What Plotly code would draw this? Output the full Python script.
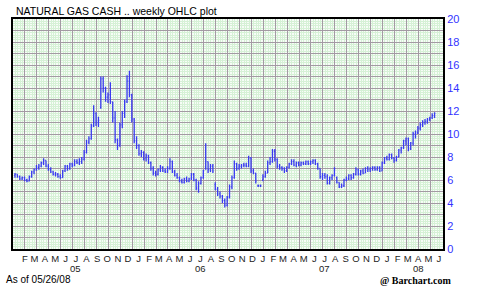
import plotly.graph_objects as go
import pandas as pd

title_text = "NATURAL GAS CASH .. weekly OHLC plot"
as_of_text = "As of 05/26/08"
credit_text = "@ Barchart.com"

first_week = "2005-01-03"
n_weeks = 177
week_dates = pd.date_range(first_week, periods=n_weeks, freq="7D")

opens = [6.4, 6.5, 6.3, 6.1, 6.2, 6.0, 5.9, 6.3, 6.7, 6.9, 7.1, 7.2, 7.5, 7.7, 7.2, 6.9, 6.7, 6.5, 6.5, 6.3,
         6.2, 6.8, 7.2, 7.0, 7.4, 7.3, 7.6, 7.5, 7.6, 7.8, 8.4, 9.3, 9.6, 10.7, 11.8, 11.0, 12.3, 14.8, 14.0, 13.2,
         13.4, 12.8, 11.4, 9.5, 9.0, 10.8, 11.8, 12.8, 14.6, 13.4, 11.3, 9.4, 9.0, 8.3, 8.4, 7.9, 8.1, 7.5, 7.0, 6.6,
         6.5, 6.9, 7.1, 6.8, 6.7, 7.0, 7.6, 6.7, 6.4, 6.2, 5.9, 5.8, 6.1, 5.9, 6.1, 6.5, 6.0, 5.3, 5.7, 6.2,
         7.0, 7.6, 6.9, 7.2, 5.6, 5.2, 4.8, 4.6, 4.2, 3.8, 4.5, 5.4, 6.2, 7.4, 7.0, 7.2, 7.3, 7.3, 7.2, 7.9,
         6.8, 6.6, 5.5, 5.5, 6.0, 6.3, 6.6, 7.5, 7.6, 8.5, 7.8, 7.2, 7.1, 7.0, 6.8, 7.1, 7.4, 7.6, 7.3, 7.5,
         7.3, 7.5, 7.4, 7.6, 7.4, 7.6, 7.7, 7.4, 7.0, 6.3, 6.4, 6.3, 5.7, 6.2, 6.4, 6.2, 5.8, 5.4, 5.5, 6.0,
         6.1, 6.4, 6.2, 6.5, 6.9, 6.5, 6.8, 6.6, 7.0, 6.9, 7.0, 7.1, 6.9, 7.1, 6.8, 7.5, 7.9, 7.8, 8.2, 7.9,
         7.7, 8.0, 8.6, 8.8, 9.4, 9.6, 8.7, 9.2, 10.0, 10.1, 10.5, 10.8, 11.0, 11.1, 11.3, 11.4, 11.6]
highs = [6.6, 6.5, 6.4, 6.3, 6.3, 6.1, 6.4, 6.8, 7.0, 7.3, 7.4, 7.6, 7.9, 7.7, 7.4, 7.1, 6.8, 6.7, 6.6, 6.5,
         6.9, 7.3, 7.3, 7.5, 7.5, 7.8, 7.8, 7.9, 8.0, 8.6, 9.5, 9.8, 10.9, 12.5, 11.9, 11.5, 15.0, 15.0, 14.1, 13.6,
         14.5, 12.8, 12.0, 9.6, 11.0, 12.0, 13.0, 15.1, 15.5, 13.5, 11.4, 9.8, 9.1, 8.6, 8.5, 8.3, 8.2, 7.6, 7.2, 6.8,
         7.0, 7.3, 7.2, 7.0, 7.2, 7.9, 7.7, 6.9, 6.6, 6.3, 6.1, 6.2, 6.3, 6.2, 6.6, 6.6, 6.1, 5.9, 6.3, 6.9,
         9.2, 7.6, 7.4, 7.4, 5.8, 5.4, 5.0, 4.7, 4.4, 4.6, 5.6, 6.4, 7.7, 7.5, 7.4, 7.4, 7.5, 7.5, 8.1, 8.0,
         7.0, 6.6, 5.6, 5.6, 6.5, 6.8, 7.7, 8.0, 8.7, 8.7, 7.9, 7.4, 7.2, 7.1, 7.2, 7.5, 7.8, 7.8, 7.6, 7.6,
         7.6, 7.6, 7.7, 7.7, 7.7, 7.8, 7.8, 7.5, 7.0, 6.6, 6.6, 6.5, 6.3, 6.5, 7.1, 6.3, 5.8, 5.7, 6.1, 6.3,
         6.5, 6.5, 6.6, 7.1, 7.0, 6.9, 7.0, 7.1, 7.2, 7.1, 7.2, 7.2, 7.2, 7.2, 7.6, 8.0, 8.1, 8.3, 8.3, 8.0,
         8.1, 8.7, 8.9, 9.5, 9.7, 9.7, 9.3, 10.2, 10.3, 10.7, 11.0, 11.2, 11.3, 11.4, 11.5, 11.8, 11.9]
lows = [6.2, 6.2, 6.0, 6.0, 5.9, 5.8, 5.9, 6.2, 6.5, 6.8, 6.9, 7.1, 7.3, 7.1, 6.8, 6.6, 6.4, 6.3, 6.2, 6.1,
        6.2, 6.7, 6.8, 6.9, 7.1, 7.2, 7.4, 7.3, 7.4, 7.7, 8.3, 9.1, 9.5, 10.6, 10.7, 10.6, 12.2, 13.6, 12.8, 12.7,
        12.6, 11.0, 9.2, 8.6, 8.9, 10.5, 11.4, 12.7, 13.2, 11.0, 9.2, 8.7, 8.1, 8.0, 7.7, 7.6, 7.4, 6.8, 6.4, 6.3,
        6.4, 6.7, 6.7, 6.6, 6.6, 6.9, 6.6, 6.3, 6.1, 5.8, 5.7, 5.7, 5.8, 5.8, 6.0, 5.9, 5.1, 4.9, 5.6, 6.1,
        6.9, 6.6, 6.7, 6.6, 5.1, 4.6, 4.4, 4.0, 3.6, 3.7, 4.4, 5.2, 6.1, 6.8, 6.9, 7.0, 7.1, 7.1, 7.1, 6.6,
        6.5, 5.7, 5.4, 5.4, 5.9, 6.2, 6.6, 7.3, 7.5, 7.6, 7.0, 6.9, 6.8, 6.6, 6.7, 7.0, 7.3, 7.2, 7.1, 7.2,
        7.2, 7.3, 7.3, 7.3, 7.3, 7.4, 7.3, 6.9, 6.1, 6.0, 6.1, 5.6, 5.6, 6.0, 6.3, 5.7, 5.3, 5.3, 5.4, 5.9,
        6.0, 6.0, 6.1, 6.4, 6.4, 6.4, 6.5, 6.6, 6.7, 6.7, 6.8, 6.8, 6.8, 6.7, 6.8, 7.4, 7.7, 7.7, 7.8, 7.5,
        7.6, 8.0, 8.3, 8.7, 9.0, 8.5, 8.6, 9.0, 9.6, 10.0, 10.3, 10.6, 10.8, 10.9, 11.1, 11.3, 11.4]
closes = [6.5, 6.3, 6.1, 6.2, 6.0, 5.9, 6.3, 6.7, 6.9, 7.1, 7.2, 7.5, 7.7, 7.2, 6.9, 6.7, 6.5, 6.5, 6.3, 6.2,
          6.8, 7.2, 7.0, 7.4, 7.3, 7.6, 7.5, 7.6, 7.8, 8.4, 9.3, 9.6, 10.7, 11.8, 11.0, 11.2, 14.8, 14.0, 13.2, 13.4,
          12.8, 11.4, 9.5, 9.0, 10.8, 11.8, 12.8, 14.6, 13.4, 11.3, 9.4, 9.0, 8.3, 8.4, 7.9, 8.1, 7.5, 7.0, 6.6, 6.5,
          6.9, 7.1, 6.8, 6.7, 7.0, 7.6, 6.7, 6.4, 6.2, 5.9, 5.8, 6.1, 5.9, 6.1, 6.5, 6.0, 5.3, 5.7, 6.2, 6.8,
          7.6, 6.9, 7.2, 6.8, 5.2, 4.8, 4.6, 4.2, 3.8, 4.5, 5.4, 6.2, 7.4, 7.0, 7.2, 7.3, 7.3, 7.2, 7.9, 6.8,
          6.6, 5.9, 5.5, 5.5, 6.3, 6.6, 7.5, 7.6, 8.5, 7.8, 7.2, 7.1, 7.0, 6.8, 7.1, 7.4, 7.6, 7.3, 7.5, 7.3,
          7.5, 7.4, 7.6, 7.4, 7.6, 7.7, 7.4, 7.0, 6.3, 6.4, 6.3, 5.7, 6.2, 6.4, 7.0, 5.8, 5.4, 5.5, 6.0, 6.1,
          6.4, 6.2, 6.5, 6.9, 6.5, 6.8, 6.6, 7.0, 6.9, 7.0, 7.1, 6.9, 7.1, 6.8, 7.5, 7.9, 7.8, 8.2, 7.9, 7.7,
          8.0, 8.6, 8.8, 9.4, 9.6, 8.7, 9.2, 10.0, 10.1, 10.5, 10.8, 11.0, 11.1, 11.3, 11.4, 11.6, 11.8]

month_starts = pd.date_range("2005-02-01", "2008-06-01", freq="MS")
month_letters = ["J", "F", "M", "A", "M", "J", "J", "A", "S", "O", "N", "D"]
tick_text = [month_letters[d.month - 1] for d in month_starts]
year_dates = ["2005-07-01", "2006-07-01", "2007-07-01", "2008-04-01"]
year_labels = ["05", "06", "07", "08"]

y_ticks = list(range(0, 21))
y_text = [str(v) if v % 2 == 0 else "" for v in y_ticks]

# layout geometry
W, H = 489, 288
L, R, T, B = 11, 46, 19, 39
plot_w = W - L - R
px_per_week = 2.395
start = pd.Timestamp(first_week)
left_weeks = -2.0 / px_per_week
right_weeks = left_weeks + plot_w / px_per_week
x_range = [start + pd.Timedelta(days=7 * left_weeks), start + pd.Timedelta(days=7 * right_weeks)]

bar_color = "#3a3af0"
grid_major = "#a39aa3"
grid_minor = "#d6f1d6"
font_fam = "Liberation Sans, Arial, sans-serif"

fig = go.Figure()
fig.add_trace(go.Scatter(x=[0], y=[0], xaxis="x2", yaxis="y", mode="markers",
                         marker=dict(opacity=0), hoverinfo="skip", showlegend=False))
fig.add_trace(go.Ohlc(x=week_dates, open=opens, high=highs, low=lows, close=closes,
                      increasing=dict(line=dict(color=bar_color, width=1.3)),
                      decreasing=dict(line=dict(color=bar_color, width=1.3)),
                      tickwidth=0.35, hoverinfo="skip", showlegend=False,
                      xaxis="x", yaxis="y"))

annotations = [
    dict(text=title_text, xref="paper", yref="paper", x=0, y=1, xanchor="left", yanchor="bottom",
         yshift=0, xshift=1, showarrow=False, font=dict(size=10.5, color="black", family=font_fam)),
    dict(text=as_of_text, xref="paper", yref="paper", x=0, y=0, xanchor="left", yanchor="middle",
         xshift=-9, yshift=-30, showarrow=False, font=dict(size=10, color="black", family=font_fam)),
    dict(text="<b>" + credit_text + "</b>", xref="paper", yref="paper", x=1, y=0, xanchor="right",
         yanchor="middle", xshift=10, yshift=-31, showarrow=False,
         font=dict(size=10, color="black", family="Liberation Serif, Times New Roman, serif")),
]
for d, lab in zip(year_dates, year_labels):
    annotations.append(dict(text=lab, xref="x", yref="paper", x=d, y=0, xanchor="center",
                            yanchor="middle", yshift=-19, showarrow=False,
                            font=dict(size=9.5, color="#222222", family=font_fam)))

fig.update_layout(
    width=W, height=H,
    margin=dict(l=L, r=R, t=T, b=B, pad=0),
    paper_bgcolor="white", plot_bgcolor="#f7fcf7",
    showlegend=False,
    font=dict(family=font_fam, size=10, color="#222222"),
    xaxis=dict(type="date", range=x_range, tickmode="array", tickvals=month_starts,
               ticktext=tick_text, tickangle=0, showgrid=False, zeroline=False,
               showline=True, linecolor="black", linewidth=2, mirror=True,
               ticks="", tickfont=dict(size=9.5, color="#222222", family=font_fam),
               rangeslider=dict(visible=False), fixedrange=True),
    xaxis2=dict(overlaying="x", range=[0, plot_w / px_per_week], tick0=0, dtick=5,
                showgrid=True, gridcolor=grid_major, gridwidth=1,
                minor=dict(dtick=1, showgrid=True, gridcolor=grid_minor, gridwidth=1),
                showticklabels=False, ticks="", zeroline=False, showline=False, fixedrange=True),
    yaxis=dict(range=[0, 20], side="right", tickmode="array", tickvals=y_ticks, ticktext=y_text,
               showgrid=True, gridcolor=grid_major, gridwidth=1,
               minor=dict(dtick=0.2, showgrid=True, gridcolor=grid_minor, gridwidth=1),
               zeroline=False, showline=True, linecolor="black", linewidth=2, mirror=True,
               ticks="", tickfont=dict(size=11, color="#3333ff", family=font_fam), fixedrange=True),
    annotations=annotations,
)

fig.write_html("out.html")
